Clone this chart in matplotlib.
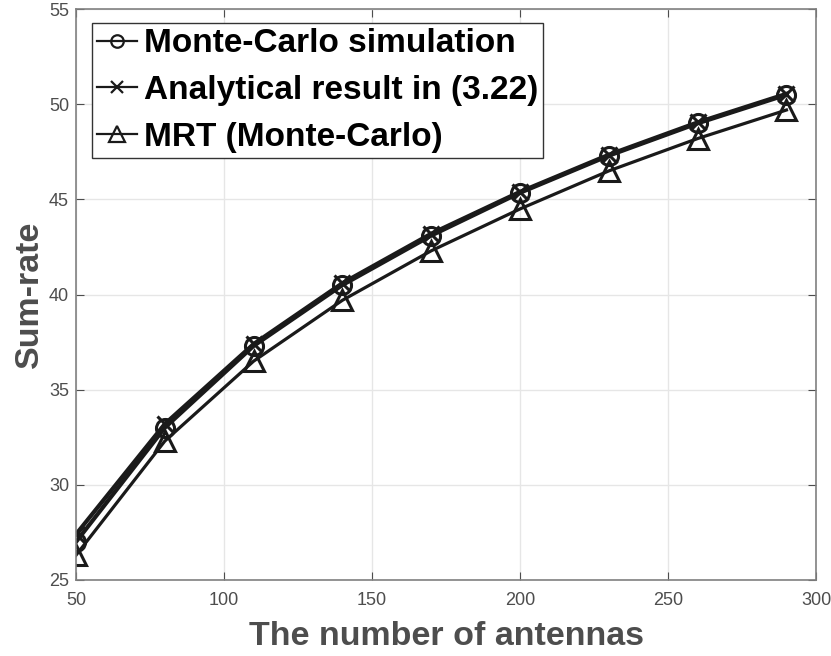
import matplotlib.pyplot as plt

plt.rcParams['font.family'] = ['Liberation Sans', 'DejaVu Sans']

# data
antennas = [50, 80, 110, 140, 170, 200, 230, 260, 290]
mc_sim = [27.0, 33.0, 37.3, 40.5, 43.1, 45.35, 47.3, 49.0, 50.5]
analytical = [27.4, 33.2, 37.4, 40.6, 43.2, 45.4, 47.35, 49.05, 50.55]
mrt_mc = [26.3, 32.3, 36.5, 39.7, 42.3, 44.5, 46.5, 48.2, 49.7]

xticks = [50, 100, 150, 200, 250, 300]
yticks = [25, 30, 35, 40, 45, 50, 55]

gray = '#4d4d4d'

fig = plt.figure(figsize=(8.31, 6.56), dpi=100)
ax = fig.add_axes([0.0915, 0.116, 0.8905, 0.87])

ax.plot(antennas, mc_sim, color='#1a1a1a', lw=3, marker='o', ms=13,
        mfc='none', mew=2.2, label='Monte-Carlo simulation')
ax.plot(antennas, analytical, color='#1a1a1a', lw=3, marker='x', ms=12,
        mew=2.2, label='Analytical result in (3.22)')
ax.plot(antennas, mrt_mc, color='#1a1a1a', lw=2.3, marker='^', ms=15,
        mfc='none', mew=2.2, label='MRT (Monte-Carlo)')

ax.set_xlim(50, 300)
ax.set_ylim(25, 55)
ax.set_xticks(xticks)
ax.set_yticks(yticks)
ax.grid(True, color='#e6e6e6', lw=1)
ax.set_axisbelow(True)
ax.tick_params(direction='in', top=True, right=True, colors=gray,
               labelsize=13, length=6)
ax.tick_params(axis='x', pad=9)
ax.tick_params(axis='y', pad=5)
for s in ax.spines.values():
    s.set_color('#808080')
    s.set_linewidth(1.2)

ax.set_xlabel('The number of antennas', fontsize=24.5, fontweight='bold',
              color=gray, labelpad=8)
ax.set_ylabel('Sum-rate', fontsize=24.5, fontweight='bold', color=gray,
              labelpad=3)

leg = ax.legend(loc='upper left', bbox_to_anchor=(0.0215, 0.975),
                prop={'size': 24, 'weight': 'bold'}, fancybox=False,
                framealpha=1, edgecolor='#333333', handlelength=1.2,
                handletextpad=0.2, borderpad=0.15, labelspacing=0.47,
                borderaxespad=0)
leg.get_frame().set_linewidth(1.0)
for h, m in zip(leg.legend_handles, [9, 8, 11]):
    h.set_linewidth(1.6)
    h.set_markersize(m)
    h.set_markeredgewidth(1.6)

fig.savefig('out.png', dpi=100)
